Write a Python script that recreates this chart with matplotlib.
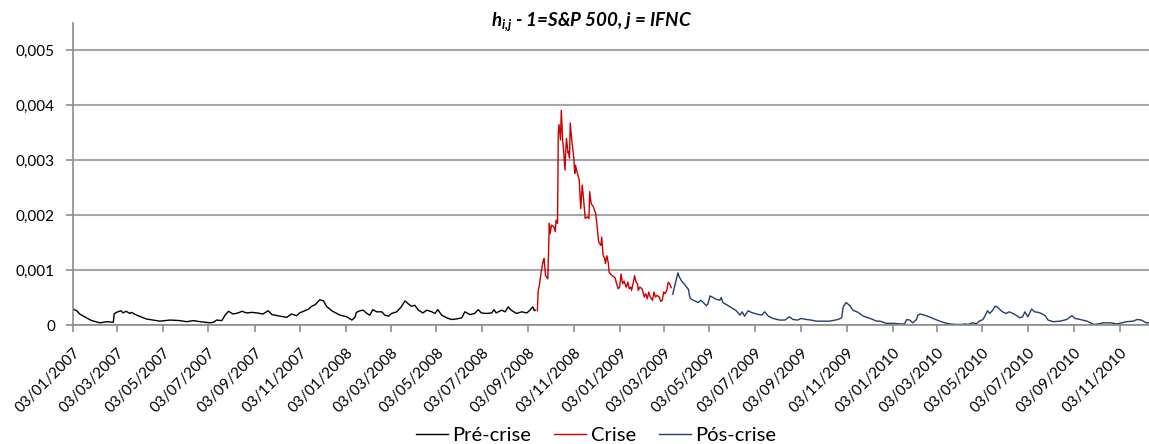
import matplotlib
matplotlib.use("Agg")
import matplotlib.pyplot as plt
import matplotlib.dates as mdates
import matplotlib.transforms as mtransforms
from matplotlib.ticker import FuncFormatter
import numpy as np

plt.rcParams['font.family'] = ['Lato', 'DejaVu Sans']
plt.rcParams['mathtext.fontset'] = 'custom'
plt.rcParams['mathtext.it'] = 'Lato:italic:bold'
plt.rcParams['mathtext.rm'] = 'Lato:italic:bold'
plt.rcParams['mathtext.bf'] = 'Lato:italic:bold'

# valores (aprox.)
pre_dates = ['2007-01-03', '2007-01-08', '2007-01-12', '2007-01-21', '2007-01-28', '2007-02-08',
             '2007-02-17', '2007-02-26', '2007-02-27', '2007-03-02', '2007-03-08', '2007-03-11',
             '2007-03-15', '2007-03-20', '2007-03-22', '2007-03-29', '2007-04-11', '2007-04-29',
             '2007-05-13', '2007-05-26', '2007-06-04', '2007-06-13', '2007-06-22', '2007-07-05',
             '2007-07-10', '2007-07-14', '2007-07-21', '2007-07-25', '2007-07-30', '2007-08-05',
             '2007-08-12', '2007-08-17', '2007-08-23', '2007-08-30', '2007-09-06', '2007-09-14',
             '2007-09-21', '2007-09-26', '2007-10-07', '2007-10-16', '2007-10-22', '2007-10-29',
             '2007-11-02', '2007-11-09', '2007-11-14', '2007-11-18', '2007-11-23', '2007-11-29',
             '2007-12-04', '2007-12-08', '2007-12-15', '2007-12-19', '2007-12-26', '2008-01-04',
             '2008-01-11', '2008-01-15', '2008-01-17', '2008-01-22', '2008-01-26', '2008-01-31',
             '2008-02-04', '2008-02-08', '2008-02-13', '2008-02-20', '2008-02-24', '2008-02-29',
             '2008-03-04', '2008-03-11', '2008-03-17', '2008-03-22', '2008-03-26', '2008-03-31',
             '2008-04-04', '2008-04-09', '2008-04-15', '2008-04-20', '2008-04-27', '2008-05-01',
             '2008-05-05', '2008-05-10', '2008-05-17', '2008-05-23', '2008-05-30', '2008-06-06',
             '2008-06-10', '2008-06-17', '2008-06-23', '2008-06-28', '2008-07-02', '2008-07-09',
             '2008-07-16', '2008-07-19', '2008-07-22', '2008-07-29', '2008-08-03', '2008-08-07',
             '2008-08-11', '2008-08-18', '2008-08-25', '2008-09-01', '2008-09-05', '2008-09-09',
             '2008-09-11', '2008-09-12']
pre_vals = [0.00029, 0.00026, 0.00020, 0.00013, 0.00008, 0.00004,
            0.00006, 0.00005, 0.00020, 0.00023, 0.00026, 0.00022,
            0.00025, 0.00021, 0.00023, 0.00018, 0.00011, 0.00007,
            0.00009, 0.00008, 0.00006, 0.00008, 0.00006, 0.00004,
            0.00005, 0.00009, 0.00008, 0.00017, 0.00025, 0.00020,
            0.00022, 0.00025, 0.00022, 0.00023, 0.00022, 0.00020,
            0.00026, 0.00019, 0.00016, 0.00014, 0.00020, 0.00017,
            0.00022, 0.00026, 0.00029, 0.00034, 0.00037, 0.00046,
            0.00044, 0.00034, 0.00026, 0.00023, 0.00018, 0.00015,
            0.00009, 0.00014, 0.00023, 0.00026, 0.00027, 0.00021,
            0.00018, 0.00028, 0.00024, 0.00024, 0.00018, 0.00016,
            0.00021, 0.00024, 0.00033, 0.00044, 0.00039, 0.00034,
            0.00036, 0.00027, 0.00022, 0.00027, 0.00024, 0.00021,
            0.00028, 0.00018, 0.00013, 0.00010, 0.00011, 0.00013,
            0.00024, 0.00019, 0.00021, 0.00028, 0.00022, 0.00021,
            0.00022, 0.00028, 0.00022, 0.00027, 0.00024, 0.00033,
            0.00027, 0.00021, 0.00024, 0.00022, 0.00027, 0.00033,
            0.00026, 0.00027]

crise_dates = ['2008-09-15', '2008-09-16', '2008-09-18', '2008-09-20', '2008-09-23', '2008-09-24',
               '2008-09-26', '2008-09-29', '2008-10-01', '2008-10-02', '2008-10-04', '2008-10-07',
               '2008-10-09', '2008-10-10', '2008-10-12', '2008-10-13', '2008-10-14', '2008-10-16',
               '2008-10-17', '2008-10-19', '2008-10-20', '2008-10-22', '2008-10-23', '2008-10-24',
               '2008-10-26', '2008-10-27', '2008-10-28', '2008-10-29', '2008-10-31', '2008-11-03',
               '2008-11-04', '2008-11-05', '2008-11-07', '2008-11-10', '2008-11-12', '2008-11-14',
               '2008-11-16', '2008-11-18', '2008-11-21', '2008-11-23', '2008-11-24', '2008-11-26',
               '2008-11-29', '2008-12-02', '2008-12-04', '2008-12-06', '2008-12-09', '2008-12-10',
               '2008-12-12', '2008-12-14', '2008-12-15', '2008-12-17', '2008-12-19', '2008-12-20',
               '2008-12-24', '2008-12-28', '2008-12-30', '2009-01-01', '2009-01-03', '2009-01-05',
               '2009-01-07', '2009-01-09', '2009-01-11', '2009-01-12', '2009-01-14', '2009-01-16',
               '2009-01-18', '2009-01-19', '2009-01-21', '2009-01-23', '2009-01-25', '2009-01-27',
               '2009-01-28', '2009-01-30', '2009-02-02', '2009-02-05', '2009-02-07', '2009-02-09',
               '2009-02-11', '2009-02-13', '2009-02-16', '2009-02-18', '2009-02-20', '2009-02-22',
               '2009-02-25', '2009-02-27', '2009-03-01', '2009-03-03', '2009-03-05', '2009-03-07',
               '2009-03-09', '2009-03-11', '2009-03-13']
crise_vals = [0.00026, 0.00060, 0.00075, 0.00096, 0.00118, 0.00121,
              0.00090, 0.00084, 0.00185, 0.00166, 0.00182, 0.00179,
              0.00170, 0.00191, 0.00185, 0.00349, 0.00365, 0.00337,
              0.00391, 0.00334, 0.00319, 0.00282, 0.00319, 0.00340,
              0.00313, 0.00316, 0.00304, 0.00368, 0.00337, 0.00301,
              0.00276, 0.00291, 0.00279, 0.00264, 0.00212, 0.00255,
              0.00227, 0.00194, 0.00197, 0.00194, 0.00243, 0.00221,
              0.00215, 0.00203, 0.00179, 0.00151, 0.00145, 0.00160,
              0.00127, 0.00121, 0.00112, 0.00126, 0.00112, 0.00096,
              0.00090, 0.00086, 0.00075, 0.00066, 0.00069, 0.00093,
              0.00075, 0.00080, 0.00072, 0.00069, 0.00078, 0.00066,
              0.00069, 0.00063, 0.00075, 0.00090, 0.00078, 0.00075,
              0.00063, 0.00069, 0.00066, 0.00051, 0.00057, 0.00048,
              0.00060, 0.00051, 0.00045, 0.00060, 0.00051, 0.00054,
              0.00051, 0.00043, 0.00045, 0.00060, 0.00057, 0.00063,
              0.00078, 0.00075, 0.00068]

pos_dates = ['2009-03-15', '2009-03-22', '2009-03-24', '2009-03-27', '2009-03-29', '2009-03-31',
             '2009-04-02', '2009-04-05', '2009-04-07', '2009-04-09', '2009-04-13', '2009-04-18',
             '2009-04-22', '2009-04-27', '2009-04-29', '2009-05-01', '2009-05-04', '2009-05-08',
             '2009-05-12', '2009-05-17', '2009-05-19', '2009-05-21', '2009-05-26', '2009-06-01',
             '2009-06-08', '2009-06-13', '2009-06-16', '2009-06-19', '2009-06-24', '2009-06-28',
             '2009-07-05', '2009-07-12', '2009-07-16', '2009-07-21', '2009-07-27', '2009-08-05',
             '2009-08-12', '2009-08-18', '2009-08-23', '2009-08-29', '2009-09-03', '2009-09-10',
             '2009-09-16', '2009-09-23', '2009-10-02', '2009-10-11', '2009-10-22', '2009-10-27',
             '2009-10-29', '2009-11-02', '2009-11-07', '2009-11-11', '2009-11-18', '2009-11-25',
             '2009-12-04', '2009-12-13', '2009-12-17', '2009-12-26', '2010-01-04', '2010-01-13',
             '2010-01-19', '2010-01-22', '2010-01-26', '2010-01-30', '2010-02-04', '2010-02-06',
             '2010-02-09', '2010-02-17', '2010-02-26', '2010-03-07', '2010-03-14', '2010-03-20',
             '2010-03-29', '2010-04-07', '2010-04-09', '2010-04-14', '2010-04-20', '2010-04-25',
             '2010-04-29', '2010-05-04', '2010-05-08', '2010-05-10', '2010-05-13', '2010-05-17',
             '2010-05-20', '2010-05-23', '2010-05-26', '2010-05-30', '2010-06-04', '2010-06-08',
             '2010-06-13', '2010-06-17', '2010-06-22', '2010-06-26', '2010-06-29', '2010-07-03',
             '2010-07-08', '2010-07-12', '2010-07-17', '2010-07-21', '2010-07-26', '2010-07-30',
             '2010-08-06', '2010-08-15', '2010-08-24', '2010-08-31', '2010-09-04', '2010-09-11',
             '2010-09-20', '2010-09-29', '2010-10-05', '2010-10-12', '2010-10-21', '2010-10-30',
             '2010-11-06', '2010-11-12', '2010-11-21', '2010-11-26', '2010-12-02', '2010-12-08',
             '2010-12-12']
pos_vals = [0.00056, 0.00095, 0.00087, 0.00080, 0.00077, 0.00074,
            0.00070, 0.00065, 0.00050, 0.00047, 0.00044, 0.00041,
            0.00045, 0.00038, 0.00035, 0.00038, 0.00053, 0.00050,
            0.00047, 0.00045, 0.00050, 0.00041, 0.00037, 0.00032,
            0.00026, 0.00018, 0.00024, 0.00016, 0.00026, 0.00023,
            0.00020, 0.00018, 0.00024, 0.00016, 0.00012, 0.00009,
            0.00009, 0.00015, 0.00010, 0.00009, 0.00012, 0.00010,
            0.00009, 0.00007, 0.00007, 0.00007, 0.00010, 0.00013,
            0.00033, 0.00041, 0.00035, 0.00027, 0.00023, 0.00016,
            0.00012, 0.00007, 0.00007, 0.00003, 0.00003, 0.00002,
            0.00002, 0.00010, 0.00009, 0.00004, 0.00010, 0.00018,
            0.00020, 0.00017, 0.00012, 0.00007, 0.00004, 0.00002,
            0.00001, 0.00001, 0.00002, 0.00001, 0.00004, 0.00002,
            0.00007, 0.00010, 0.00020, 0.00026, 0.00021, 0.00027,
            0.00034, 0.00033, 0.00029, 0.00024, 0.00021, 0.00024,
            0.00021, 0.00018, 0.00013, 0.00015, 0.00024, 0.00015,
            0.00029, 0.00024, 0.00023, 0.00021, 0.00017, 0.00009,
            0.00006, 0.00007, 0.00010, 0.00017, 0.00012, 0.00010,
            0.00007, 0.00001, 0.00002, 0.00004, 0.00004, 0.00002,
            0.00004, 0.00006, 0.00007, 0.00010, 0.00009, 0.00004,
            0.00004]

fig = plt.figure(figsize=(11.49, 4.44), dpi=100)
ax = fig.add_axes([73/1149, 119/444, 1076/1149, 302/444])

ax.plot(np.array(pre_dates, dtype='datetime64[D]'), pre_vals, color='black', lw=1.0, label='Pré-crise')
ax.plot(np.array(crise_dates, dtype='datetime64[D]'), crise_vals, color='#CC0000', lw=1.0, label='Crise')
ax.plot(np.array(pos_dates, dtype='datetime64[D]'), pos_vals, color='#1F3F6E', lw=1.0, label='Pós-crise')

ax.set_ylim(0, 0.0055)
ax.set_yticks(np.arange(0, 0.0051, 0.001))
ax.yaxis.set_major_formatter(FuncFormatter(lambda v, p: '0' if abs(v) < 1e-9 else ('%.3f' % v).replace('.', ',')))
ax.set_xlim(np.datetime64('2007-01-03'), np.datetime64('2010-12-12'))
ax.xaxis.set_major_locator(mdates.MonthLocator(bymonth=[1, 3, 5, 7, 9, 11], bymonthday=3))
ax.xaxis.set_major_formatter(mdates.DateFormatter('%d/%m/%Y'))

ax.grid(axis='y', color='#A6A6A6', lw=1.5)
ax.set_axisbelow(True)
for s in ['top', 'right']:
    ax.spines[s].set_visible(False)
for s in ['left', 'bottom']:
    ax.spines[s].set_color('#8C8C8C')
    ax.spines[s].set_linewidth(1.2)
ax.tick_params(axis='both', colors='#8C8C8C', length=5, width=1.2, labelcolor='black', labelsize=11)
ax.tick_params(axis='x', pad=13.5)
ax.tick_params(axis='y', pad=8)
shift = mtransforms.ScaledTranslation(5/100, 0, fig.dpi_scale_trans)
for lbl in ax.get_xticklabels():
    lbl.set_rotation(45)
    lbl.set_ha('right')
    lbl.set_va('center')
    lbl.set_rotation_mode('anchor')
    lbl.set_transform(lbl.get_transform() + shift)

fig.text(592/1149, 1 - 22/444, r'$h_{i{,}j}$ - 1=S&P 500, j = IFNC', ha='center', va='center',
         fontsize=13.5, fontweight='bold', style='italic')

fig.legend(loc='center', bbox_to_anchor=(596/1149, 1 - 435/444), ncol=3, frameon=False,
           fontsize=14.5, handlelength=1.6, handletextpad=0.2, columnspacing=1.15)

fig.savefig('out.png', dpi=100)
